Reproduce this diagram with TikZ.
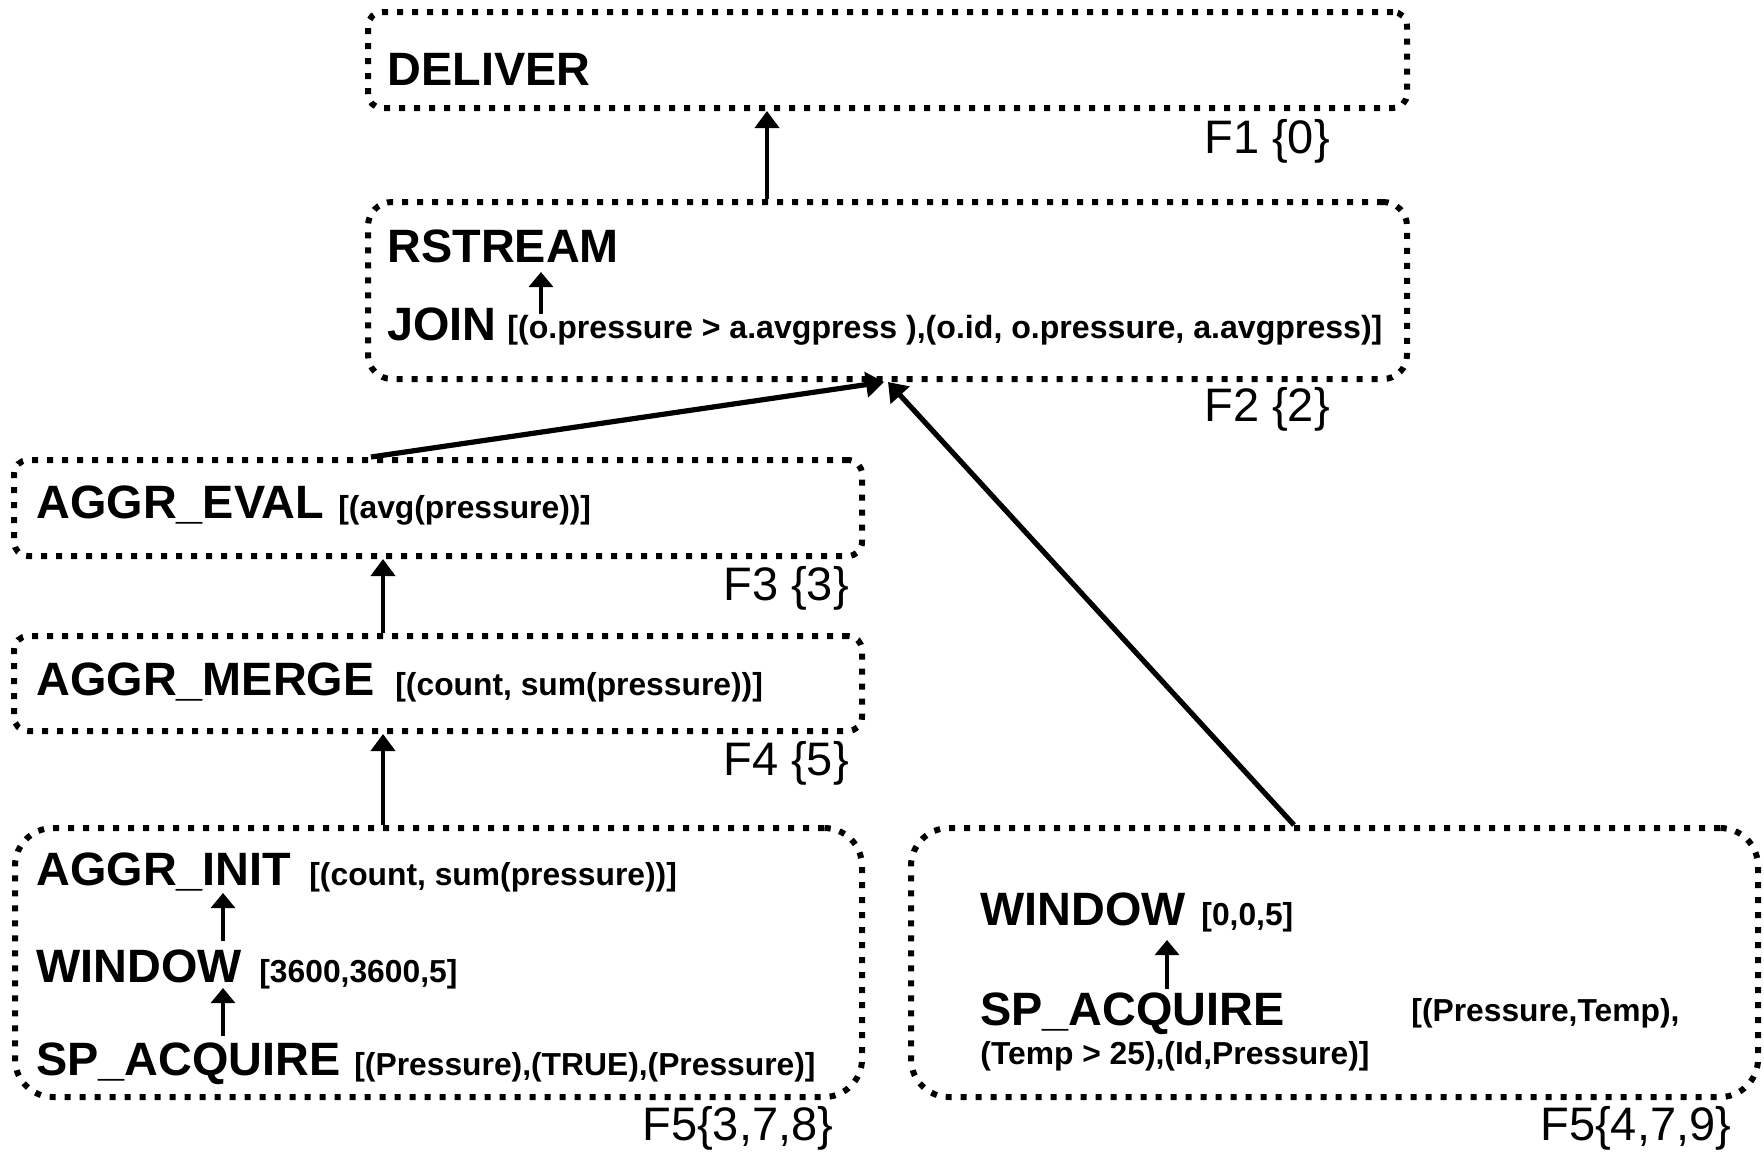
\documentclass[tikz,border=0pt]{standalone}
\usepackage{fontspec}
\setmainfont{Liberation Sans}
\usetikzlibrary{arrows.meta,fit}
\begin{document}
\begin{tikzpicture}[x=0.5pt,y=-0.5pt,
  frame/.style={draw, line width=3pt, dash pattern=on 3pt off 4.5pt, inner sep=0pt},
  op/.style={anchor=base west, inner sep=0pt, font=\bfseries\fontsize{23.4pt}{28pt}\selectfont},
  arg/.style={anchor=base west, inner sep=0pt, font=\bfseries\fontsize{15.9pt}{19pt}\selectfont},
  frag/.style={anchor=base west, inner sep=0pt, font=\fontsize{23.5pt}{28pt}\selectfont},
  link/.style={line width=2pt, -{Triangle[length=8.5pt,width=12pt]}},
  slantlink/.style={line width=2.6pt, -{Triangle[length=9pt,width=12.5pt]}},
  innerlink/.style={line width=1.6pt, -{Triangle[length=7.5pt,width=12pt]}},
]
\useasboundingbox (0,0) rectangle (1764,1152);

% fragment F1
\node[frame, rounded corners=7pt, fit={(368,12) (1407,108)}] (fdeliver) {};
\node[op] (deliver) at (387,85) {DELIVER};
\node[frag] (f1) at (1204,153) {F1 \{0\}};

% fragment F2
\node[frame, rounded corners=12pt, fit={(368,202) (1407,379)}] (frstream) {};
\node[op] (rstream) at (387,262) {RSTREAM};
\node[op] (join) at (387,340) {JOIN};
\node[arg, font=\bfseries\fontsize{16.05pt}{19pt}\selectfont] (joinarg) at (507,338) {[(o.pressure > a.avgpress ),(o.id, o.pressure, a.avgpress)]};
\node[frag] (f2) at (1204,421) {F2 \{2\}};

% fragment F3
\node[frame, rounded corners=7pt, fit={(14,460) (862,556)}] (feval) {};
\node[op] (aggreval) at (36,518) {AGGR\_EVAL};
\node[arg] (evalarg) at (338,518) {[(avg(pressure))]};
\node[frag] (f3) at (723,600) {F3 \{3\}};

% fragment F4
\node[frame, rounded corners=7pt, fit={(14,636) (862,731)}] (fmerge) {};
\node[op] (aggrmerge) at (36,695) {AGGR\_MERGE};
\node[arg] (mergearg) at (395,695) {[(count, sum(pressure))]};
\node[frag] (f4) at (723,775) {F4 \{5\}};

% fragment F5 on nodes 3,7,8
\node[frame, rounded corners=19pt, fit={(15,828) (862,1097)}] (finit) {};
\node[op] (aggrinit) at (36,885) {AGGR\_INIT};
\node[arg] (initarg) at (309,885) {[(count, sum(pressure))]};
\node[op] (windowa) at (36,982) {WINDOW};
\node[arg] (windowaarg) at (259,982) {[3600,3600,5]};
\node[op] (acqa) at (36,1075) {SP\_ACQUIRE};
\node[arg] (acqaarg) at (354,1075) {[(Pressure),(TRUE),(Pressure)]};
\node[frag] (f5a) at (642,1140) {F5\{3,7,8\}};

% fragment F5 on nodes 4,7,9
\node[frame, rounded corners=19pt, fit={(911,828) (1758,1097)}] (fright) {};
\node[op] (windowb) at (980,925) {WINDOW};
\node[arg] (windowbarg) at (1201,925) {[0,0,5]};
\node[op] (acqb) at (980,1025) {SP\_ACQUIRE};
\node[arg] (acqbarg) at (1411,1021) {[(Pressure,Temp),};
\node[arg] (acqbarg2) at (980,1064) {(Temp > 25),(Id,Pressure)]};
\node[frag] (f5b) at (1540,1140) {F5\{4,7,9\}};

% connector columns
\coordinate (xa) at (767,0);
\coordinate (xb) at (541,0);
\coordinate (xc) at (223,0);
\coordinate (xd) at (383,0);
\coordinate (xe) at (371,0);
\coordinate (xf) at (884,0);
\coordinate (xg) at (1294,0);
\coordinate (xh) at (888,0);
\coordinate (xi) at (1167,0);

% between fragments
\draw[link] (frstream.north -| xa) -- (fdeliver.south -| xa);
\draw[link] (fmerge.north -| xd) -- (feval.south -| xd);
\draw[link] (finit.north -| xd) -- (fmerge.south -| xd);
\draw[slantlink] (feval.north -| xe) -- (frstream.south -| xf);
\draw[slantlink] (fright.north -| xg) -- (frstream.south -| xh);

% inside fragments
\draw[innerlink, shorten >=5pt] (joinarg.north -| xb) -- (rstream.base -| xb);
\draw[innerlink, shorten <=4pt, shorten >=4pt] (windowa.north -| xc) -- (aggrinit.base -| xc);
\draw[innerlink, shorten <=3pt, shorten >=3pt] (acqa.north -| xc) -- (windowa.base -| xc);
\draw[innerlink, shorten <=1.5pt, shorten >=7.5pt] (acqb.north -| xi) -- (windowb.base -| xi);
\end{tikzpicture}
\end{document}
